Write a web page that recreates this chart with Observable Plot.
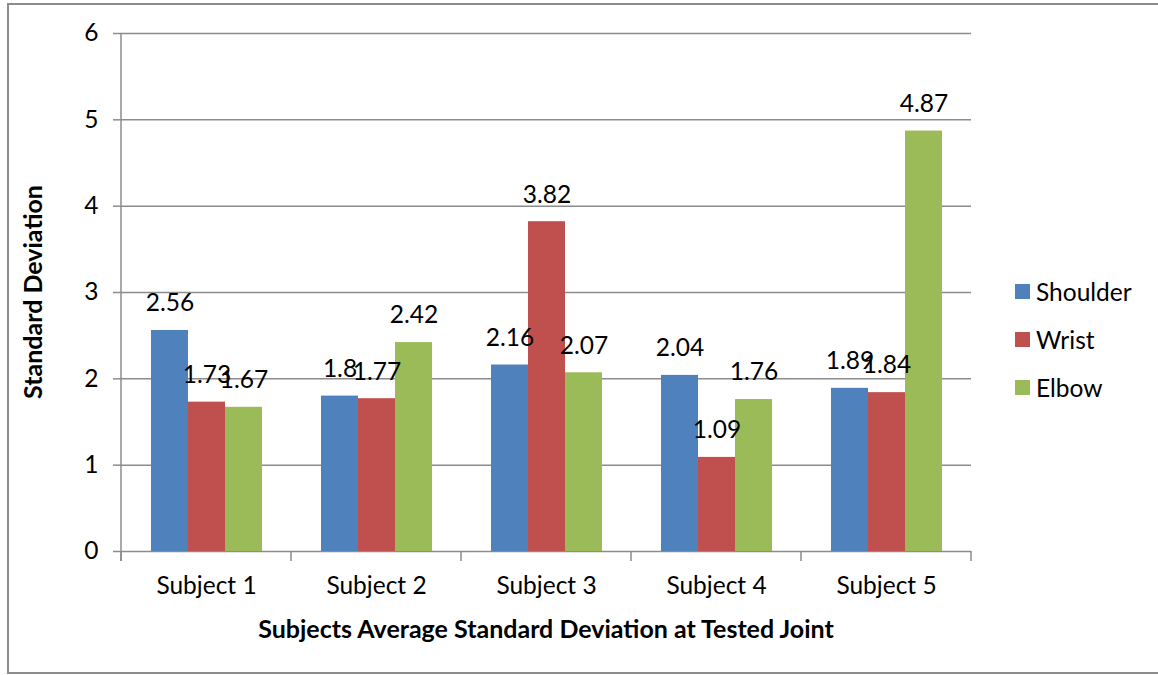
<!DOCTYPE html>
<html><head><meta charset="utf-8">
<script src="https://cdn.jsdelivr.net/npm/d3@7"></script>
<script src="https://cdn.jsdelivr.net/npm/@observablehq/plot@0.6"></script>
<style>
body{margin:0;background:#fff;}
#wrap{position:relative;width:1158px;height:675px;overflow:hidden;font-family:Lato, "Open Sans", sans-serif;color:#000;}
#border{position:absolute;left:7px;top:3px;width:1180px;height:671px;border:2px solid #8c8c8c;box-sizing:border-box;pointer-events:none;}
#chart{position:absolute;left:0;top:0;}
.xtitle{position:absolute;left:546px;top:628px;transform:translate(-50%,-50%);font-weight:bold;font-size:25px;white-space:nowrap;}
.ytitle{position:absolute;left:32px;top:292px;transform:translate(-50%,-50%) rotate(-90deg);font-weight:bold;font-size:25px;white-space:nowrap;}
#legend{position:absolute;left:1015px;top:267px;}
.item{display:flex;align-items:center;height:48px;font-size:24.5px;}
.sw{width:15px;height:15px;margin-right:6px;}
</style></head>
<body>
<div id="wrap">
  <div id="chart"></div>
  <div class="ytitle">Standard Deviation</div>
  <div class="xtitle">Subjects Average Standard Deviation at Tested Joint</div>
  <div id="legend"></div>
  <div id="border"></div>
</div>
<script>
const subjects = ["Subject 1", "Subject 2", "Subject 3", "Subject 4", "Subject 5"];
const joints = ["Shoulder", "Wrist", "Elbow"];
const shoulder = [2.56, 1.8, 2.16, 2.04, 1.89];
const wrist = [1.73, 1.77, 3.82, 1.09, 1.84];
const elbow = [1.67, 2.42, 2.07, 1.76, 4.87];
const yTicks = [0, 1, 2, 3, 4, 5, 6];
const colors = ["#4F81BD", "#C0504D", "#9BBB59"];

const series = {Shoulder: shoulder, Wrist: wrist, Elbow: elbow};
const rows = subjects.flatMap((s, i) => joints.map(j => ({subject: s, joint: j, value: series[j][i]})));

const gridColor = "#8c8c8c";
const fs = 24.5;

const chart = Plot.plot({
  width: 1158,
  height: 675,
  marginLeft: 120,
  marginRight: 186,
  marginTop: 33,
  marginBottom: 124,
  style: {fontFamily: "Lato, 'Open Sans', sans-serif", fontSize: fs + "px", color: "#000", background: "transparent"},
  fx: {domain: subjects, paddingInner: 0, paddingOuter: 0, label: null},
  x: {domain: joints, paddingInner: 0, paddingOuter: 0.74, axis: null},
  y: {domain: [0, 6], label: null},
  color: {domain: joints, range: colors},
  marks: [
    Plot.gridY(yTicks, {stroke: gridColor, strokeOpacity: 1, strokeWidth: 1.5}),
    Plot.barY(rows, {fx: "subject", x: "joint", y: "value", fill: "joint"}),
    Plot.text(rows, {fx: "subject", x: "joint", y: "value", text: d => String(d.value), dy: -27, fontSize: fs, fill: "#000"}),
    Plot.axisY(yTicks, {tickSize: 8, tickPadding: 15, tickFormat: d => String(d), stroke: gridColor, strokeWidth: 1.5, fontSize: fs, fill: "#000", label: null}),
    Plot.axisFx({anchor: "bottom", tickSize: 0, tickPadding: 25, fontSize: fs, fill: "#000", label: null})
  ]
});
document.getElementById("chart").appendChild(chart);

// axis line and category boundary ticks, positioned by Plot's scales
const fx = chart.scale("fx");
const y = chart.scale("y");
const svg = d3.select(chart);
const bounds = subjects.map(s => fx.apply(s)).concat([fx.apply(subjects[subjects.length - 1]) + fx.bandwidth]);
const y0 = y.apply(0), yTop = y.apply(6);
const g = svg.append("g").attr("stroke", gridColor).attr("stroke-width", 1.5);
g.append("line").attr("x1", bounds[0]).attr("x2", bounds[0]).attr("y1", yTop).attr("y2", y0 + 10);
bounds.forEach(b => g.append("line").attr("x1", b).attr("x2", b).attr("y1", y0).attr("y2", y0 + 10));

// legend
const legend = d3.select("#legend");
joints.forEach((j, i) => {
  const it = legend.append("div").attr("class", "item");
  it.append("div").attr("class", "sw").style("background", colors[i]);
  it.append("span").text(j);
});
</script>
</body></html>
